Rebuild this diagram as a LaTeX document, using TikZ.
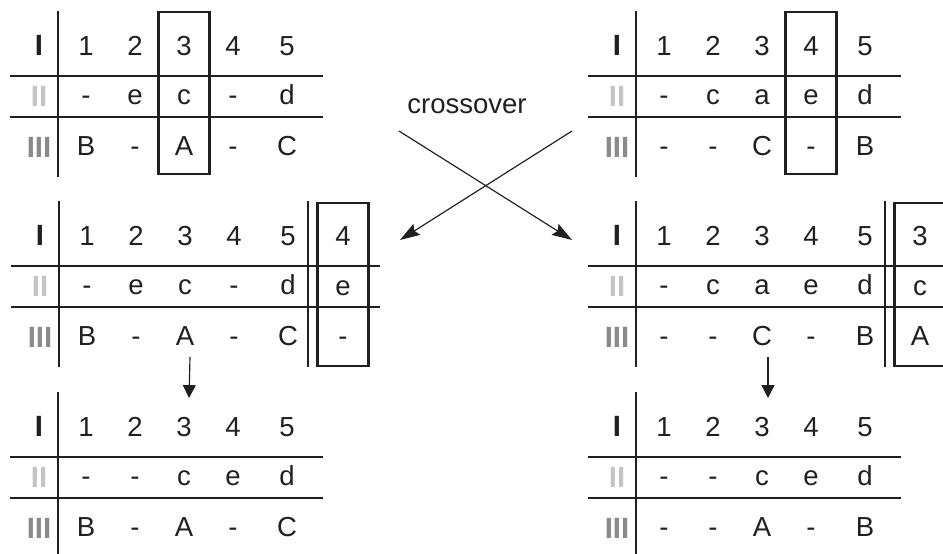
\documentclass[tikz,border=0pt]{standalone}
\usepackage{fontspec}
\setmainfont{Liberation Sans}
\usetikzlibrary{arrows.meta}

\definecolor{ink}{HTML}{231F20}
\definecolor{lightbar}{HTML}{C4C4C4}
\definecolor{midbar}{HTML}{8A8A8A}

% one chromosome table: #1 name, #2 shift, #3 row II, #4 row III
\newcommand{\chromtab}[4]{%
    \begin{scope}[shift={#2}]
        \draw[tabline] (0,11) -- (0,177);
        \draw[tabline] (-48,76) -- (265,76);
        \draw[tabline] (-48,117) -- (265,117);
        \node[rowlab] (#1-l1) at (-19,55) {I};
        \node[rowlab, text=lightbar] (#1-l2) at (-19,106) {II};
        \node[rowlab, text=midbar] (#1-l3) at (-19,157) {III};
        \foreach \v [count=\c] in {1,2,3,4,5}
            \node[gene] (#1-1-\c) at ({28+49*(\c-1)+5*(\c==5)},55) {\v};
        \foreach \v [count=\c] in {#3}
            \node[gene] (#1-2-\c) at ({28+49*(\c-1)+5*(\c==5)},104) {\v};
        \foreach \v [count=\c] in {#4}
            \node[gene] (#1-3-\c) at ({28+49*(\c-1)+5*(\c==5)},155) {\v};
    \end{scope}}

% extra column hung on the right of a table: #1 name, #2 shift, #3 values
\newcommand{\sparecol}[3]{%
    \begin{scope}[shift={#2}]
        \draw[tabline] (249,11) -- (249,177);
        \draw[tabline] (265,76) -- (321,76);
        \draw[tabline] (265,117) -- (321,117);
        \foreach \v [count=\r] in {#3}
            \node[gene] (#1-\r-6) at (284,{55+50*(\r-1)}) {\v};
        \draw[selbox] (#1-1-6.base) ++(-25.5,-42) rectangle ++(51,163);
    \end{scope}}

\begin{document}
\begin{tikzpicture}[
        x=0.03cm, y=-0.03cm,
        tabline/.style={draw=ink, line width=1.2pt},
        selbox/.style={draw=ink, line width=2.2pt},
        gene/.style={anchor=base, inner sep=0pt, text=ink, font=\fontsize{23.5}{28}\selectfont},
        rowlab/.style={anchor=base, inner sep=0pt, text=ink, font=\fontsize{25}{30}\selectfont\bfseries},
        swap/.style={draw=ink, line width=1pt, -{Stealth[length=17pt, width=11pt, inset=2.5pt]}},
        down/.style={draw=ink, line width=1pt, -{Triangle[length=11pt, width=11pt]}},
    ]
    \useasboundingbox (0,0) rectangle (943,553);

    % parents
    \chromtab{tl}{(58,0)}{-,e,c,-,d}{B,-,A,-,C}
    \chromtab{tr}{(636,0)}{-,c,a,e,d}{-,-,C,-,B}
    \draw[selbox] (tl-1-3.base) ++(-25.5,-43) rectangle ++(51,162);
    \draw[selbox] (tr-1-4.base) ++(-25.5,-43) rectangle ++(51,162);

    % crossover
    \node[gene] (cross) at (467,113) {crossover};
    \coordinate (tlout) at (399,131);
    \coordinate (trout) at (572,131);
    \coordinate (mlin) at (400,240);
    \coordinate (mrin) at (572,240);
    \draw[swap] (tlout) -- (mrin);
    \draw[swap] (trout) -- (mlin);

    % children with the copied column
    \chromtab{ml}{(59,190)}{-,e,c,-,d}{B,-,A,-,C}
    \sparecol{ml}{(59,190)}{4,e,-}
    \chromtab{mr}{(636,190)}{-,c,a,e,d}{-,-,C,-,B}
    \sparecol{mr}{(636,190)}{3,c,A}

    % repaired children
    \chromtab{bl}{(58,381)}{-,-,c,e,d}{B,-,A,-,C}
    \chromtab{br}{(636,381)}{-,-,c,e,d}{-,-,A,-,B}
    \draw[down] ([shift={(5,12)}]ml-3-3.base) -- ([shift={(5,-38)}]bl-1-3.base);
    \draw[down] ([shift={(6,12)}]mr-3-3.base) -- ([shift={(6,-38)}]br-1-3.base);
\end{tikzpicture}
\end{document}
